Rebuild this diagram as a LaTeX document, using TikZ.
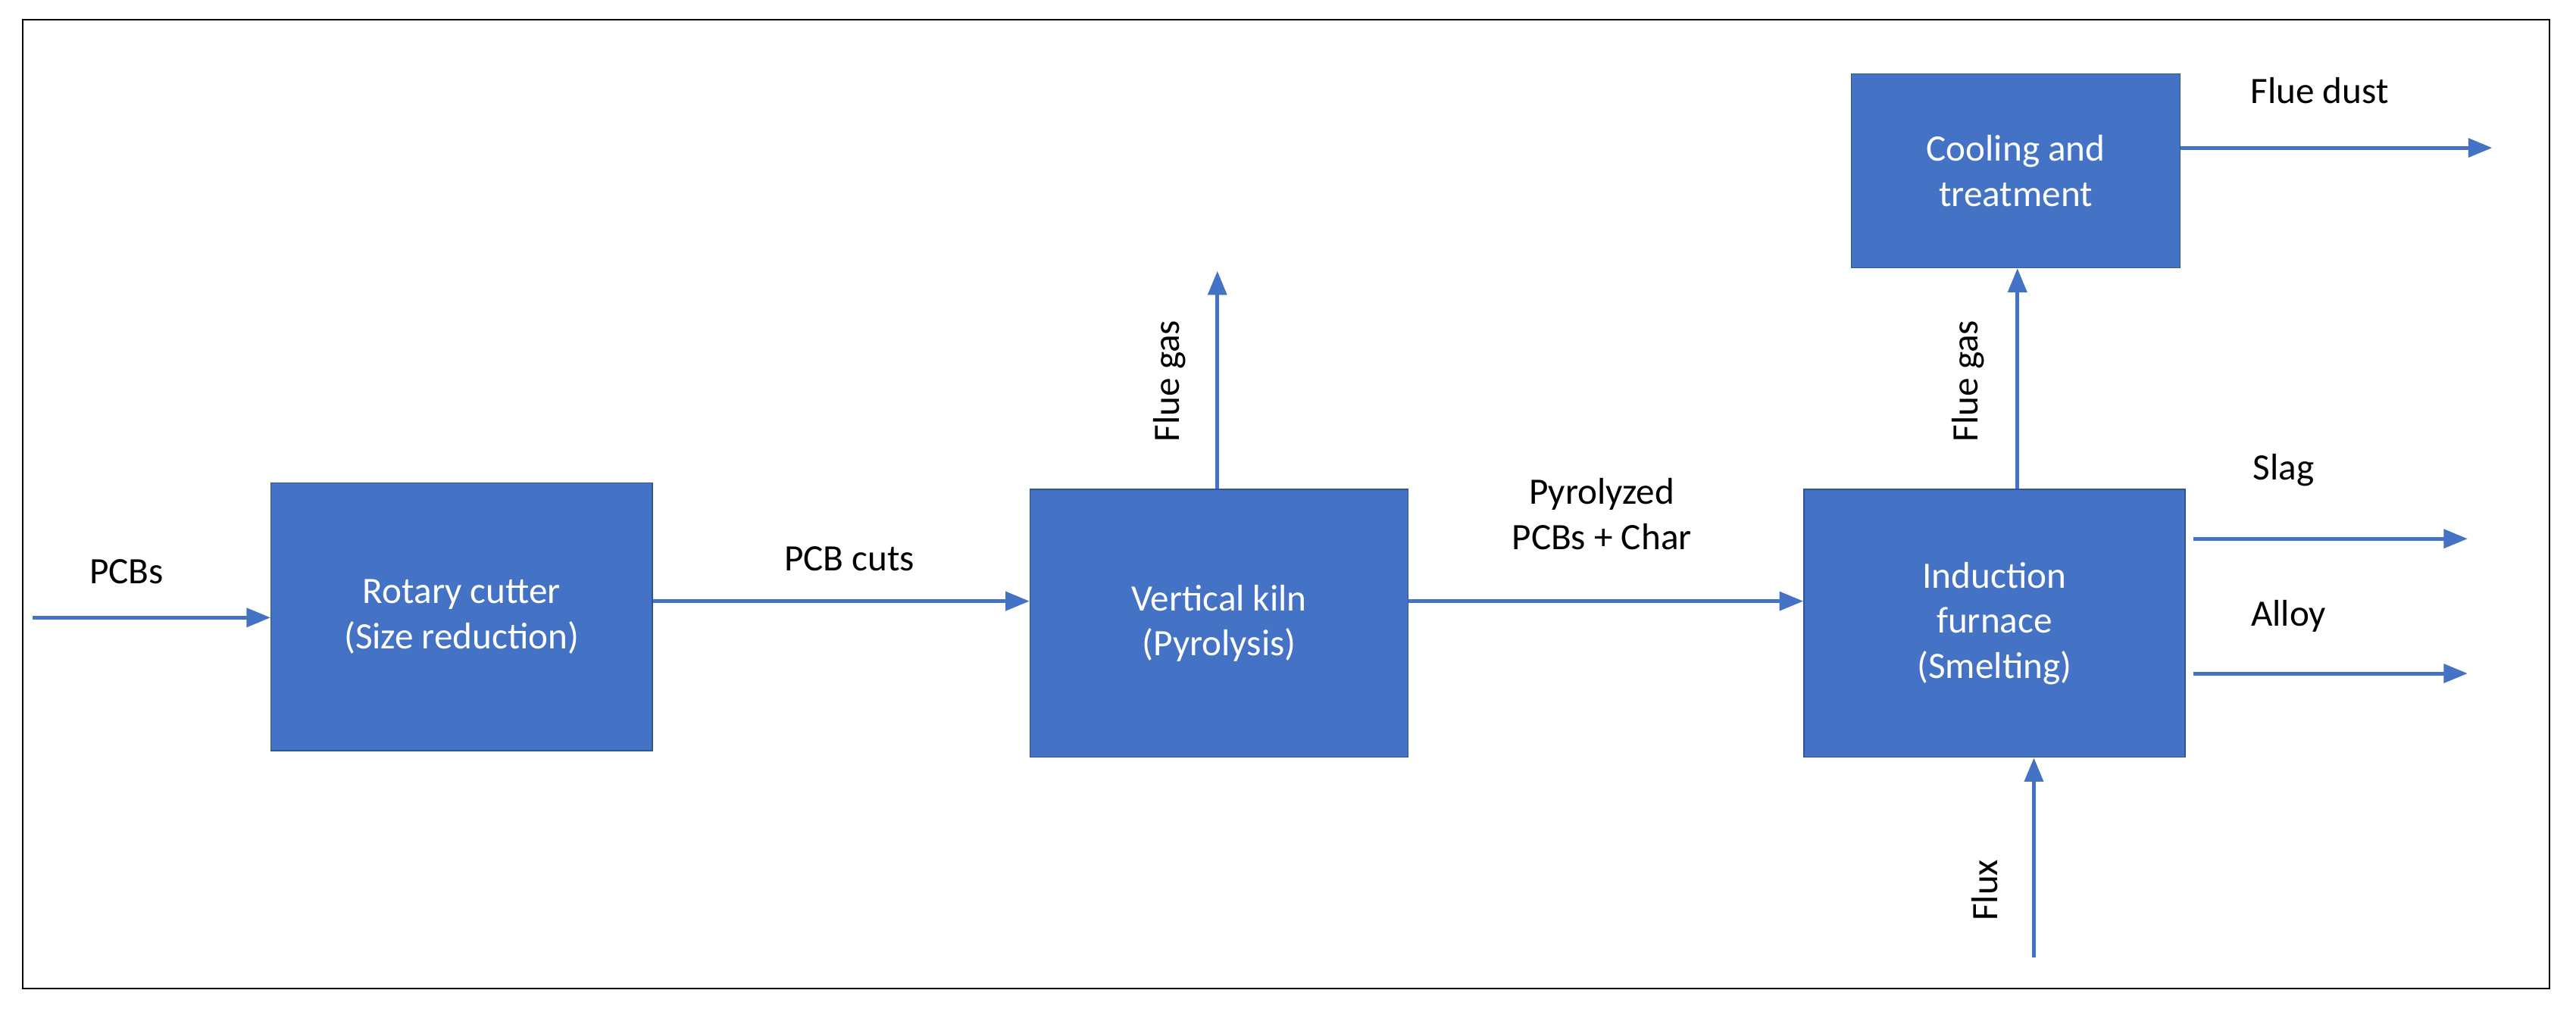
\documentclass[tikz,border=0pt]{standalone}
\usepackage{fontspec}
\setmainfont{Carlito}
\usetikzlibrary{arrows.meta}
\definecolor{bx}{HTML}{4472C4}
\definecolor{bd}{HTML}{2F5597}
\begin{document}
\begin{tikzpicture}[x=0.02168cm,y=-0.02168cm,
 box/.style={draw=bd,fill=bx,text=white,align=center,inner sep=0pt,font=\fontsize{14}{17}\selectfont},
 lab/.style={font=\fontsize{14}{17}\selectfont,align=center},
 arr/.style={draw=bx,line width=1.4pt,-{Triangle[length=9pt,width=7pt]}}]
\useasboundingbox (0,0) rectangle (1568,616);
\draw[line width=0.6pt] (14,12) rectangle (1552,602);
\node[box,minimum width=232*0.02168cm,minimum height=163*0.02168cm] (rc) at (281,375.5) {Rotary cutter\\(Size reduction)};
\node[box,minimum width=230*0.02168cm,minimum height=163*0.02168cm] (vk) at (742,379.5) {Vertical kiln\\(Pyrolysis)};
\node[box,minimum width=232*0.02168cm,minimum height=163*0.02168cm] (if) at (1214,379.5) {Induction\\furnace\\(Smelting)};
\node[box,minimum width=200*0.02168cm,minimum height=118*0.02168cm] (ct) at (1227,104) {Cooling and\\treatment};
\coordinate (pin) at (20,376);
\coordinate (fg) at (741,165);
\coordinate (fd) at (1517,90);
\coordinate (sl) at (1502,328);
\coordinate (al) at (1502,410);
\coordinate (fx) at (1238,583);
\draw[arr] (pin) -- (rc.west|-pin);
\draw[arr] (rc.east|-0,366) -- (vk.west|-0,366);
\draw[arr] (vk.east|-0,366) -- (if.west|-0,366);
\draw[arr] (vk.north-|fg) -- (fg);
\draw[arr] (if.north-|1228,0) -- (ct.south-|1228,0);
\draw[arr] (ct.east|-fd) -- (fd);
\draw[arr] (1335,328) -- (sl);
\draw[arr] (1335,410) -- (al);
\draw[arr] (fx) -- (if.south-|fx);
\node[lab] at (77,348) {PCBs};
\node[lab] at (517,340) {PCB cuts};
\node[lab] at (975,313) {Pyrolyzed\\PCBs + Char};
\node[lab,rotate=90] at (712,232) {Flue gas};
\node[lab,rotate=90] at (1198,232) {Flue gas};
\node[lab,rotate=90] at (1208,542) {Flux};
\node[lab] at (1412,55) {Flue dust};
\node[lab] at (1390,286) {Slag};
\node[lab] at (1393,375) {Alloy};
\end{tikzpicture}
\end{document}
